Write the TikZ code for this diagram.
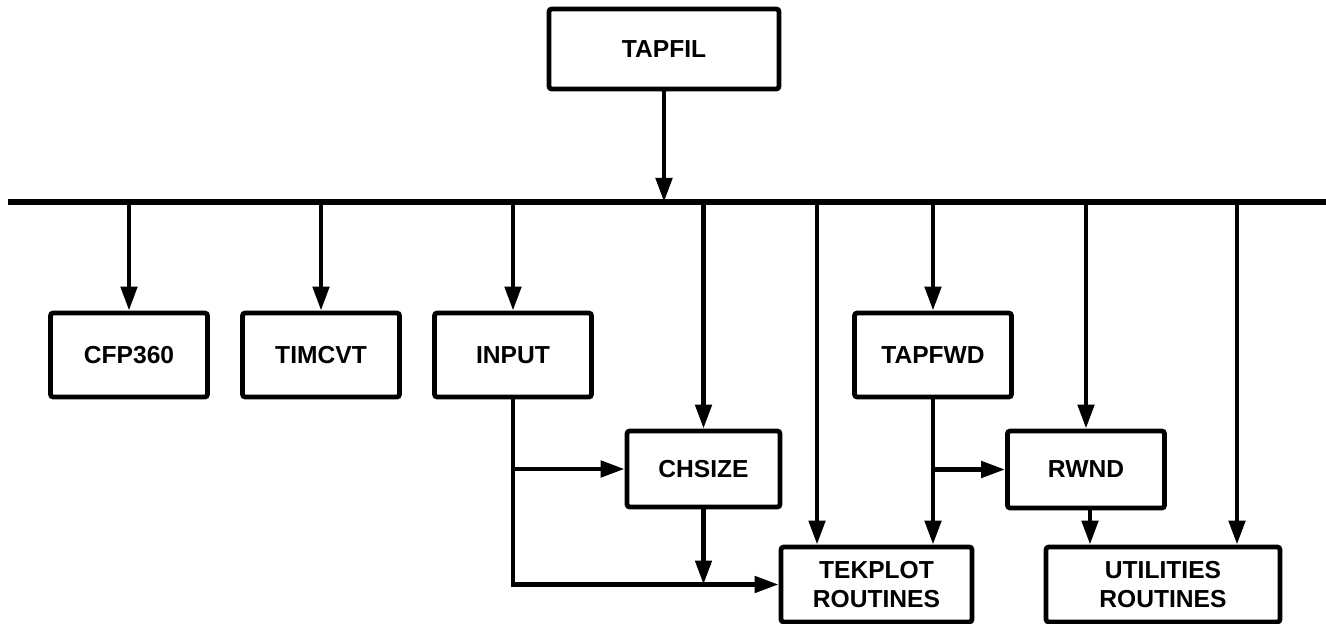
\documentclass[tikz,border=0pt]{standalone}
\usepackage{fontspec}
\setmainfont{Liberation Sans}
\usetikzlibrary{arrows.meta,positioning}

\begin{document}
\begin{tikzpicture}[
    x=0.02cm, y=-0.02cm,
    >={Triangle[length=4.8mm, width=3.2mm]},
    line width=2.7pt,
    module/.style={rectangle, draw=black, rounded corners=1.5pt, line width=2.7pt,
        minimum width=3.14cm, minimum height=1.68cm, inner sep=0pt, align=center,
        font=\bfseries\fontsize{14}{16}\selectfont},
    bus/.style={line width=3.2pt}
]
    \useasboundingbox (0,0) rectangle (1326,624);

    \node[module, minimum width=4.6cm, minimum height=1.6cm] (tapfil) at (664,49) {TAPFIL};

    \coordinate (busL) at (8,202);
    \coordinate (busR) at (1326,202);

    \node[module] (cfp)    at (129,355) {CFP360};
    \node[module] (timcvt) at (321,355) {TIMCVT};
    \node[module] (input)  at (513,355) {INPUT};
    \node[module] (tapfwd) at (933,355) {TAPFWD};

    \node[module, minimum width=3.06cm, minimum height=1.52cm] (chsize) at (703.5,469) {CHSIZE};
    \node[module, minimum width=3.14cm, minimum height=1.54cm] (rwnd) at (1086,469.5) {RWND};

    \node[module, minimum width=3.82cm, minimum height=1.5cm] (tekplot) at (876.5,584.5) {TEKPLOT\\ROUTINES};
    \node[module, minimum width=4.68cm, minimum height=1.5cm] (utils) at (1163,584.5) {UTILITIES\\ROUTINES};

    % main bus
    \draw[bus] (busL) -- (busR);
    \draw[->] (tapfil) -- (tapfil |- busL);

    % drops from the bus
    \foreach \n in {cfp,timcvt,input,tapfwd,chsize,rwnd}
        \draw[->] (\n |- busL) -- (\n);
    \draw[->] ([xshift=-1.19cm]tekplot.north |- busL) -- ([xshift=-1.19cm]tekplot.north);
    \draw[->] ([xshift=1.48cm]utils.north |- busL) -- ([xshift=1.48cm]utils.north);

    % lower links
    \draw[->] (input) |- (tekplot);
    \draw[->] (input |- chsize) -- (chsize);
    \draw[->] (chsize) -- (chsize |- tekplot);
    \draw[->] (tapfwd) -- (tapfwd |- tekplot.north);
    \draw[->] (tapfwd |- rwnd) -- (rwnd);
    \draw[->] ([xshift=0.08cm]rwnd.south) -- ([xshift=0.08cm]rwnd.south |- utils.north);
\end{tikzpicture}
\end{document}
